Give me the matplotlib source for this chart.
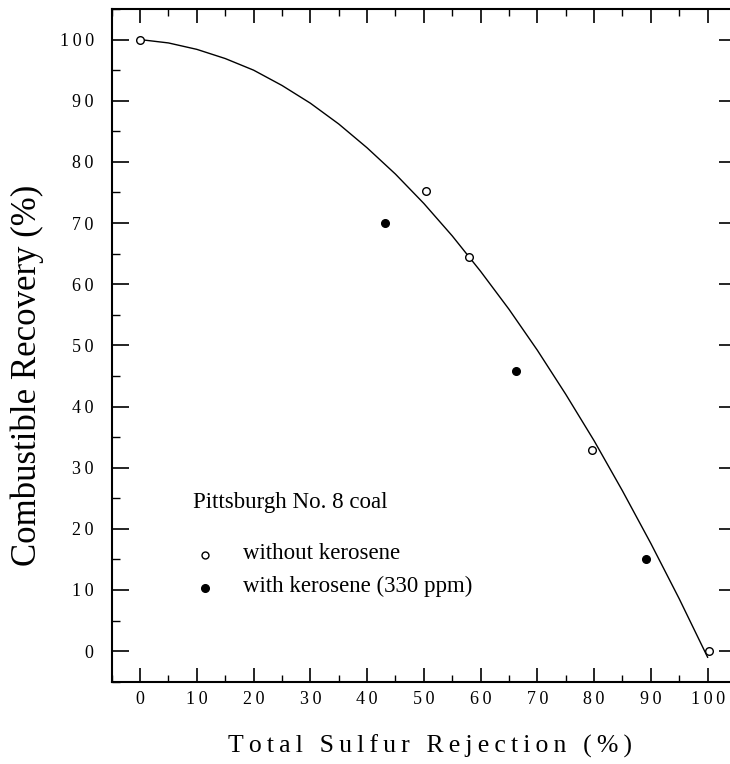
import matplotlib
matplotlib.use("Agg")
import matplotlib.pyplot as plt
from matplotlib.ticker import MultipleLocator, FuncFormatter

plt.rcParams['font.family'] = ['Liberation Serif', 'DejaVu Serif']

# data
open_x = [0, 50.4, 58.0, 79.7, 100.3]
open_y = [100, 75.3, 64.4, 32.9, 0.0]
filled_x = [43.2, 66.3, 89.1]
filled_y = [70.0, 45.8, 15.1]
curve_x = [0, 5, 10, 15, 20, 25, 30, 35, 40, 45, 50, 55, 60, 65, 70, 75, 80, 85, 90, 95, 100]
curve_y = [100, 99.45, 98.4, 96.9, 95.0, 92.5, 89.6, 86.2, 82.3, 78.0, 73.2, 67.9,
           62.1, 55.9, 49.2, 42.0, 34.4, 26.2, 17.6, 8.55, -1.0]

W, H = 730, 764
fig = plt.figure(figsize=(W/100, H/100), dpi=100)
left, right, top, bottom = 111.7, 736.0, 9.0, 681.7
ax = fig.add_axes([left/W, 1-bottom/H, (right-left)/W, (bottom-top)/H])

ax.plot(curve_x, curve_y, color='black', lw=1.0)
ax.plot(open_x, open_y, 'o', ms=5.5, mfc='white', mec='black', mew=1.0, ls='none')
ax.plot(filled_x, filled_y, 'o', ms=5.5, mfc='black', mec='black', ls='none')

ax.set_xlim(-5, 105)
ax.set_ylim(-5, 105)

ax.xaxis.set_major_locator(MultipleLocator(10))
ax.xaxis.set_minor_locator(MultipleLocator(5))
ax.yaxis.set_major_locator(MultipleLocator(10))
ax.yaxis.set_minor_locator(MultipleLocator(5))

def spaced(v, pos):
    return '\u2009'.join(str(int(round(v))))
ax.xaxis.set_major_formatter(FuncFormatter(spaced))
ax.yaxis.set_major_formatter(FuncFormatter(spaced))

ax.tick_params(axis='x', which='major', direction='in', length=10, width=1.2,
               top=True, labelsize=13, pad=7)
ax.tick_params(axis='x', which='minor', direction='in', length=5, width=1.0, top=True)
ax.tick_params(axis='y', which='major', direction='in', length=12, width=1.2,
               right=True, labelsize=13, pad=13)
ax.tick_params(axis='y', which='minor', direction='in', length=6, width=1.0, right=False)

for s in ['left', 'bottom', 'top']:
    ax.spines[s].set_linewidth(1.5)
ax.spines['right'].set_visible(False)

xl = '\u2009'.join(list("Total Sulfur Rejection (%)"))
ax.set_xlabel(xl, fontsize=18.5)
ax.xaxis.set_label_coords(0.51, -0.079)
ax.set_ylabel("Combustible Recovery (%)", fontsize=25)
ax.yaxis.set_label_coords(-0.108, 0.455)

ax.text(9.3, 24.3, "Pittsburgh No. 8 coal", fontsize=16.5, va='center', ha='left')
ax.plot([11.45], [15.65], 'o', ms=5, mfc='white', mec='black', mew=1.0)
ax.plot([11.45], [10.4], 'o', ms=5.5, mfc='black', mec='black')
ax.text(18.1, 15.9, "without kerosene", fontsize=16.5, va='center', ha='left')
ax.text(18.1, 10.65, "with kerosene (330 ppm)", fontsize=16.5, va='center', ha='left')

fig.savefig("out.png", dpi=100)
